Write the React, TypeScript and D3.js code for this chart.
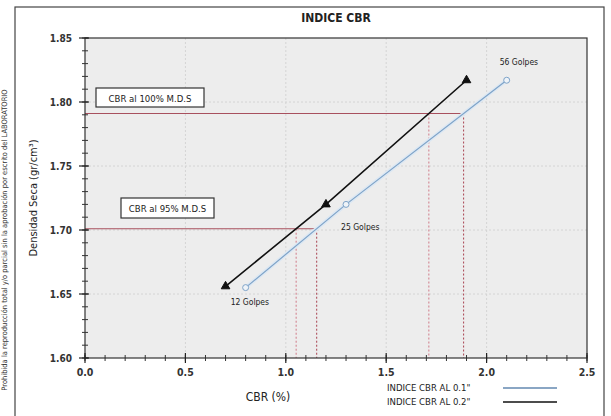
import React from "react";
import * as d3 from "d3";

// ---- data ----
const cbr01 = [0.8, 1.3, 2.1];
const dens01 = [1.655, 1.72, 1.817];
const cbr02 = [0.7, 1.2, 1.9];
const dens02 = [1.656, 1.72, 1.817];
const golpesLabels = ["12 Golpes", "25 Golpes", "56 Golpes"];
const mdsLevels = [1.791, 1.701];
const mdsLabels = ["CBR al 100% M.D.S", "CBR al 95% M.D.S"];
const xTicks = [0, 0.5, 1.0, 1.5, 2.0, 2.5];
const yTicks = [1.6, 1.65, 1.7, 1.75, 1.8, 1.85];
const legendLabels = ['INDICE CBR AL 0.1"', 'INDICE CBR AL 0.2"'];

const W = 611, H = 416;
const L = 85, R = 587, T = 38, B = 358;
const FONT = "'DejaVu Sans Condensed', 'Liberation Sans Narrow', 'Liberation Sans', sans-serif";

function interpX(xs: number[], ys: number[], y: number): number {
  for (let i = 0; i < xs.length - 1; i++) {
    const y0 = ys[i], y1 = ys[i + 1];
    if ((y - y0) * (y - y1) <= 0) {
      return xs[i] + ((y - y0) / (y1 - y0)) * (xs[i + 1] - xs[i]);
    }
  }
  return xs[xs.length - 1];
}

export default function App() {
  const x = d3.scaleLinear().domain([0, 2.5]).range([L, R]);
  const y = d3.scaleLinear().domain([1.6, 1.85]).range([B, T]);
  const line = d3.line<[number, number]>().x(d => x(d[0])).y(d => y(d[1]));
  const s01 = cbr01.map((c, i) => [c, dens01[i]] as [number, number]);
  const s02 = cbr02.map((c, i) => [c, dens02[i]] as [number, number]);
  const xMinor = d3.range(0, 2.5001, 0.1);
  const yMinor = d3.range(1.6, 1.8501, 0.01);
  const tri = d3.symbol().type(d3.symbolTriangle).size(32)();
  const labelOffsets = [[-15, 17, "start"], [-5, 26, "start"], [-7, -15, "start"]] as const;

  return (
    <svg width={W} height={H} style={{ position: "absolute", left: 0, top: 0, background: "#fff" }} fontFamily={FONT}>
      {/* outer frame */}
      <rect x={15} y={7} width={589} height={412} fill="none" stroke="#444" strokeWidth={1.2} />
      {/* watermark text */}
      <text transform="translate(7,240) rotate(-90)" textAnchor="middle" fontSize={7.5} fill="#333">
        Prohibida la reproducción total y/o parcial sin la aprobación por escrito del LABORATORIO
      </text>
      {/* title */}
      <text x={336} y={22} textAnchor="middle" fontSize={12} fontWeight="bold" fill="#222">INDICE CBR</text>
      {/* plot bg */}
      <rect x={L} y={T} width={R - L} height={B - T} fill="#ededed" />
      {/* gridlines */}
      {xTicks.slice(1, -1).map(t => (
        <line key={"gx" + t} x1={x(t)} x2={x(t)} y1={T} y2={B} stroke="#d4d4d4" strokeWidth={1} strokeDasharray="2,2" />
      ))}
      {yTicks.slice(1, -1).map(t => (
        <line key={"gy" + t} x1={L} x2={R} y1={y(t)} y2={y(t)} stroke="#d4d4d4" strokeWidth={1} strokeDasharray="2,2" />
      ))}
      {/* MDS reference lines */}
      {mdsLevels.map((m, i) => {
        const xb = interpX(cbr01, dens01, m);
        const xk = interpX(cbr02, dens02, m);
        return (
          <g key={"m" + i}>
            <line x1={L} x2={x(xb)} y1={y(m)} y2={y(m)} stroke="#a8505e" strokeWidth={1.1} />
            <line x1={x(xb)} x2={x(xb)} y1={y(m)} y2={B} stroke="#a8404f" strokeWidth={1} strokeDasharray="2,2" />
            <line x1={x(xk)} x2={x(xk)} y1={y(m)} y2={B} stroke="#d07a88" strokeWidth={1} strokeDasharray="2,2" />
          </g>
        );
      })}
      {/* plot border */}
      <rect x={L} y={T} width={R - L} height={B - T} fill="none" stroke="#333" strokeWidth={1.2} />
      {/* x ticks */}
      {xMinor.map((t, i) => (
        <line key={"xm" + i} x1={x(t)} x2={x(t)} y1={B - 3} y2={B + 3} stroke="#333" strokeWidth={1} />
      ))}
      {xTicks.map(t => (
        <g key={"xt" + t}>
          <line x1={x(t)} x2={x(t)} y1={B - 5} y2={B + 5} stroke="#222" strokeWidth={1.2} />
          <text x={x(t)} y={B + 18} textAnchor="middle" fontSize={10.5} fontWeight="bold" fill="#333">{t.toFixed(1)}</text>
        </g>
      ))}
      {/* y ticks */}
      {yMinor.map((t, i) => (
        <line key={"ym" + i} x1={L - 3} x2={L + 3} y1={y(t)} y2={y(t)} stroke="#333" strokeWidth={1} />
      ))}
      {yTicks.map(t => (
        <g key={"yt" + t}>
          <line x1={L - 6} x2={L + 4} y1={y(t)} y2={y(t)} stroke="#222" strokeWidth={1.2} />
          <text x={L - 13} y={y(t) + 4} textAnchor="end" fontSize={10} fontWeight="bold" fill="#333">{t.toFixed(2)}</text>
        </g>
      ))}
      {/* y axis title */}
      <text transform={`translate(${37},${y(1.725)}) rotate(-90)`} textAnchor="middle" fontSize={11} fill="#222">
        Densidad Seca (gr/cm³)
      </text>
      {/* x axis title */}
      <text x={268} y={401} textAnchor="middle" fontSize={12} fill="#222">CBR  (%)</text>
      {/* series 0.1 */}
      <path d={line(s01) || ""} fill="none" stroke="#dde8f3" strokeWidth={4} />
      <path d={line(s01) || ""} fill="none" stroke="#7ea3c8" strokeWidth={1.2} />
      {s01.map((d, i) => (
        <circle key={"c" + i} cx={x(d[0])} cy={y(d[1])} r={3} fill="#eef3f8" stroke="#7ea3c8" strokeWidth={1} />
      ))}
      {/* series 0.2 */}
      <path d={line(s02) || ""} fill="none" stroke="#111" strokeWidth={1.6} />
      {s02.map((d, i) => (
        <path key={"t" + i} d={tri || ""} transform={`translate(${x(d[0])},${y(d[1])})`} fill="#111" stroke="#111" />
      ))}
      {/* golpes labels */}
      {s01.map((d, i) => (
        <text key={"g" + i} x={x(d[0]) + labelOffsets[i][0]} y={y(d[1]) + labelOffsets[i][1]} textAnchor={labelOffsets[i][2]} fontSize={8.5} fill="#222">
          {golpesLabels[i]}
        </text>
      ))}
      {/* MDS boxes */}
      <g>
        <rect x={96} y={88} width={108} height={19} fill="#fff" stroke="#333" strokeWidth={1.2} />
        <text x={150} y={101.5} textAnchor="middle" fontSize={9.5} fill="#222">{mdsLabels[0]}</text>
        <rect x={121} y={198} width={93} height={20} fill="#fff" stroke="#333" strokeWidth={1.2} />
        <text x={167.5} y={212} textAnchor="middle" fontSize={9.5} fill="#222">{mdsLabels[1]}</text>
      </g>
      {/* legend */}
      <text x={387} y={391} fontSize={9.5} fill="#222">{legendLabels[0]}</text>
      <line x1={503} x2={557} y1={388} y2={388} stroke="#8aa6c4" strokeWidth={2} />
      <text x={387} y={405} fontSize={9.5} fill="#222">{legendLabels[1]}</text>
      <line x1={503} x2={557} y1={402} y2={402} stroke="#111" strokeWidth={1.5} />
    </svg>
  );
}
